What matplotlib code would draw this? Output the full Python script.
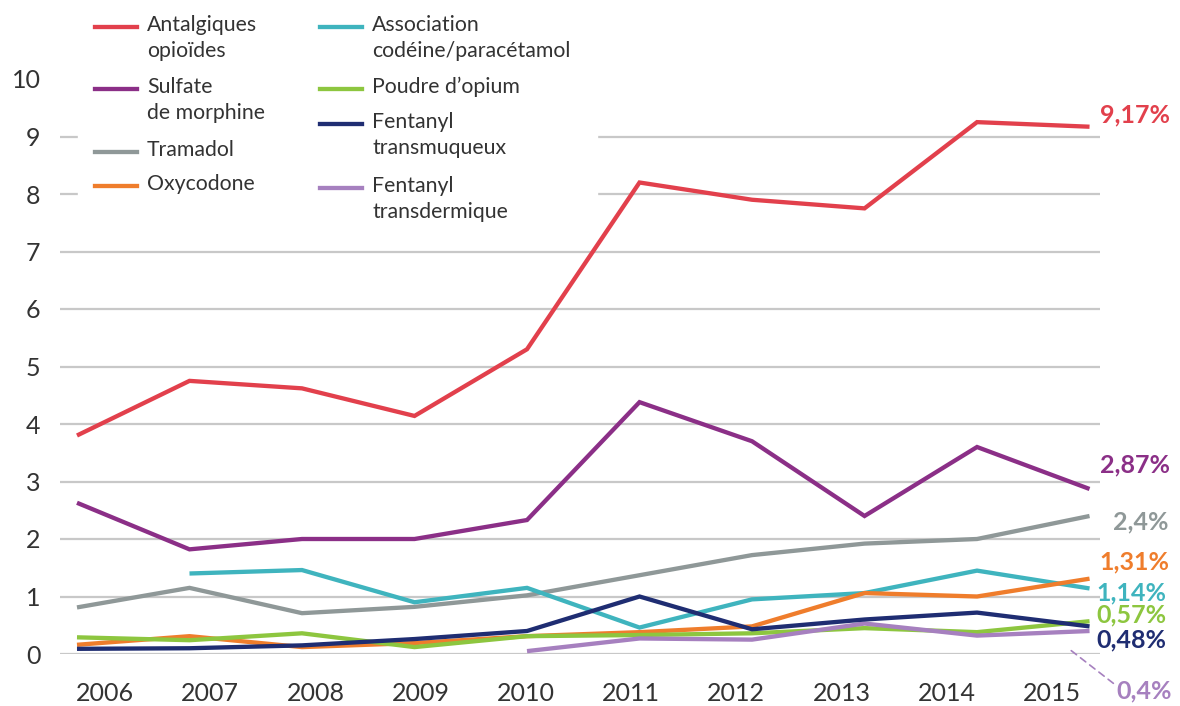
import numpy as np
import matplotlib
matplotlib.use("Agg")
import matplotlib.pyplot as plt
from matplotlib.lines import Line2D
from matplotlib.patches import Rectangle

plt.rcParams['font.family'] = ['Lato', 'DejaVu Sans']

# data (% per year)
years = ['2006', '2007', '2008', '2009', '2010', '2011', '2012', '2013', '2014', '2015']
nan = np.nan
antalgiques = [3.8, 4.75, 4.62, 4.14, 5.3, 8.2, 7.9, 7.75, 9.25, 9.17]
sulfate = [2.63, 1.82, 2.0, 2.0, 2.33, 4.38, 3.7, 2.4, 3.6, 2.87]
tramadol = [0.81, 1.15, 0.71, 0.82, 1.02, 1.37, 1.72, 1.92, 2.0, 2.4]
association = [nan, 1.4, 1.46, 0.9, 1.15, 0.46, 0.95, 1.06, 1.45, 1.14]
oxycodone = [0.16, 0.31, 0.12, 0.19, 0.31, 0.38, 0.48, 1.06, 1.0, 1.31]
opium = [0.29, 0.24, 0.36, 0.12, 0.31, 0.33, 0.36, 0.45, 0.38, 0.57]
fent_muq = [0.09, 0.1, 0.15, 0.26, 0.4, 1.0, 0.43, 0.6, 0.72, 0.48]
fent_derm = [nan, nan, nan, nan, 0.05, 0.27, 0.25, 0.53, 0.32, 0.4]
end_labels = ['9,17%', '2,87%', '2,4%', '1,31%', '1,14%', '0,57%', '0,48%', '0,4%']

RED = '#e2404c'
PURPLE = '#8b2f87'
GRAY = '#8f9898'
CYAN = '#3fb4be'
ORANGE = '#ef7d2c'
GREEN = '#8dc63f'
NAVY = '#1f2d72'
LAVENDER = '#a680bf'

W, H = 1180, 706
fig = plt.figure(figsize=(W / 100, H / 100), dpi=100)
ax = fig.add_axes([60 / W, 52 / H, 1040 / W, 575 / H])

x = np.arange(len(years))
# drawing order: back to front
series = [
    (tramadol, GRAY),
    (association, CYAN),
    (oxycodone, ORANGE),
    (opium, GREEN),
    (fent_derm, LAVENDER),
    (fent_muq, NAVY),
    (sulfate, PURPLE),
    (antalgiques, RED),
]
for vals, col in series:
    ax.plot(x, vals, color=col, lw=3.1, solid_joinstyle='miter', solid_capstyle='butt')

ax.set_xlim(-0.151, 9.093)
ax.set_ylim(0, 10)
ax.set_yticks(range(0, 11))
# year labels sit a bit off the data points in the original
ax.set_xticks(0.25 + 0.935 * x)
ax.set_xticklabels(years)
ax.tick_params(axis='both', length=0, labelsize=18, labelcolor='#333333')
ax.tick_params(axis='y', pad=14)
ax.tick_params(axis='x', pad=20)
for s in ax.spines.values():
    s.set_visible(False)
ax.set_axisbelow(True)
ax.yaxis.grid(True, color='#c8c8c8', lw=1.6)
ax.get_ygridlines()[-1].set_visible(False)

# value labels at the end of the lines
last = [(antalgiques, RED, 10, 12), (sulfate, PURPLE, 10, 24), (tramadol, GRAY, 23, -6),
        (oxycodone, ORANGE, 10, 17), (association, CYAN, 7, -4), (opium, GREEN, 7, 6),
        (fent_muq, NAVY, 7, -14)]
for (vals, col, dx, dy), lab in zip(last, end_labels):
    ax.annotate(lab, xy=(x[-1], vals[-1]), xytext=(dx, dy), textcoords='offset pixels',
                ha='left', va='center', color=col, fontsize=18, fontweight='bold',
                annotation_clip=False)
ax.annotate(end_labels[-1], xy=(8.81, 0.1), xytext=(48, -43), textcoords='offset pixels',
            ha='left', va='center', color=LAVENDER, fontsize=18, fontweight='bold',
            annotation_clip=False,
            arrowprops=dict(arrowstyle='-', color=LAVENDER, lw=1.2, linestyle=(0, (4, 3)),
                            shrinkA=0, shrinkB=0, relpos=(0, 0.75)))


# hand placed legend (pixel coordinates of the original)
def fx(px):
    return px / W


def fy(py):
    return 1 - py / H


fig.add_artist(Rectangle((fx(78), fy(228)), fx(597) - fx(78), 228 / H,
                         transform=fig.transFigure, color='white', zorder=1))
legend_items = [
    (95, 27, RED, 'Antalgiques\nopioïdes'),
    (95, 89, PURPLE, 'Sulfate\nde morphine'),
    (95, 152, GRAY, 'Tramadol'),
    (95, 186, ORANGE, 'Oxycodone'),
    (320, 27, CYAN, 'Association\ncodéine/paracétamol'),
    (320, 89, GREEN, 'Poudre d\u2019opium'),
    (320, 124, NAVY, 'Fentanyl\ntransmuqueux'),
    (320, 188, LAVENDER, 'Fentanyl\ntransdermique'),
]
for lx, ly, col, lab in legend_items:
    fig.add_artist(Line2D([fx(lx), fx(lx + 42)], [fy(ly), fy(ly)], color=col, lw=3.1,
                          transform=fig.transFigure, zorder=2))
    fig.text(fx(lx + 52), fy(ly - 12), lab, ha='left', va='top', fontsize=15.3,
             color='#333333', linespacing=1.4, zorder=2)

fig.savefig('out.png', dpi=100)
